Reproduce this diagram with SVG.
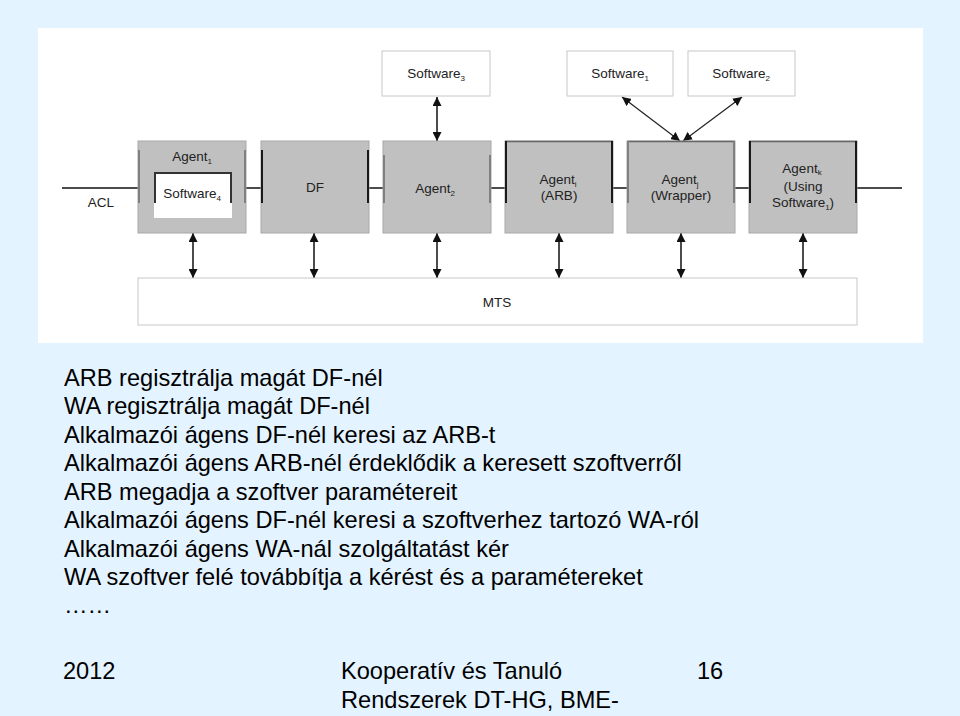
<svg xmlns="http://www.w3.org/2000/svg" width="960" height="716" viewBox="0 0 960 716">
<defs>
<style>
.dg{font-family:"Liberation Sans",Arial,sans-serif;font-size:13.5px;fill:#222;text-anchor:middle}
.sub{font-size:8px}
.agent{fill:#C0C0C0;stroke:#A8A8A8;stroke-width:1}
.sw{fill:#fff;stroke:#C8C8C8;stroke-width:1}
.acl{stroke:#111;stroke-width:1.5;fill:none}
.bk{stroke:#1a1a1a;stroke-width:2}
.gr{stroke:#808080;stroke-width:2}
.top{stroke:#666;stroke-width:1.5}
.arr{stroke:#111;stroke-width:1.5;fill:none;marker-start:url(#ah);marker-end:url(#ah)}
.arrt{stroke:#222;stroke-width:1.2;fill:none;marker-start:url(#ah);marker-end:url(#ah)}
.body{font-family:"Liberation Sans",Arial,sans-serif;font-size:23.6px;fill:#000}
</style>
<marker id="ah" viewBox="0 0 10 10" refX="10" refY="5" markerWidth="9" markerHeight="9" markerUnits="userSpaceOnUse" orient="auto-start-reverse">
<path d="M0,0 L10,5 L0,10 z" fill="#111"/>
</marker>
</defs>
<rect x="0" y="0" width="960" height="716" fill="#E3F3FF"/>
<rect x="38" y="28" width="885" height="315" fill="#fff"/>

<g id="connectors">
<path class="acl" d="M62,188 H138 M246,188 H261 M369,188 H383 M491,188 H505 M613,188 H627 M735,188 H749 M857,188 H902"/>
<line class="arr" x1="437" y1="97" x2="437" y2="141"/>
<line class="arrt" x1="622" y1="97" x2="680" y2="141"/>
<line class="arrt" x1="742" y1="97" x2="683" y2="141"/>
<line class="arr" x1="193" y1="233" x2="193" y2="278"/>
<line class="arr" x1="314" y1="233" x2="314" y2="278"/>
<line class="arr" x1="437" y1="233" x2="437" y2="278"/>
<line class="arr" x1="559" y1="233" x2="559" y2="278"/>
<line class="arr" x1="681" y1="233" x2="681" y2="278"/>
<line class="arr" x1="803" y1="233" x2="803" y2="278"/>
</g>

<text class="dg" x="101" y="207">ACL</text>

<g id="software3">
<rect class="sw" x="382" y="51" width="108" height="45"/>
<text class="dg" x="436" y="78">Software<tspan class="sub" dy="3">3</tspan></text>
</g>
<g id="software1">
<rect class="sw" x="567" y="51" width="106" height="45"/>
<text class="dg" x="620" y="78">Software<tspan class="sub" dy="3">1</tspan></text>
</g>
<g id="software2">
<rect class="sw" x="688" y="51" width="107" height="45"/>
<text class="dg" x="741" y="78">Software<tspan class="sub" dy="3">2</tspan></text>
</g>

<g id="agent1">
<rect class="agent" x="138" y="141" width="108" height="92"/>
<line class="gr" x1="139" y1="150" x2="139" y2="203"/>
<line class="gr" x1="245" y1="150" x2="245" y2="203"/>
<text class="dg" x="192" y="161">Agent<tspan class="sub" dy="3">1</tspan></text>
<rect x="154" y="172" width="78" height="46" fill="#fff"/>
<path d="M155,203 V173 H231 V203" fill="none" stroke="#333" stroke-width="2"/>
<text class="dg" x="192" y="198">Software<tspan class="sub" dy="3">4</tspan></text>
</g>

<g id="df">
<rect class="agent" x="261" y="141" width="108" height="92"/>
<line class="bk" x1="262" y1="150" x2="262" y2="203"/>
<line class="bk" x1="368" y1="150" x2="368" y2="203"/>
<text class="dg" x="315" y="192">DF</text>
</g>

<g id="agent2">
<rect class="agent" x="383" y="141" width="108" height="92"/>
<line class="gr" x1="384" y1="155" x2="384" y2="203"/>
<line class="gr" x1="490" y1="155" x2="490" y2="203"/>
<text class="dg" x="435" y="193">Agent<tspan class="sub" dy="3">2</tspan></text>
</g>

<g id="agent-arb">
<rect class="agent" x="505" y="141" width="108" height="92"/>
<line class="top" x1="505" y1="141.5" x2="613" y2="141.5"/>
<line class="bk" x1="506" y1="141" x2="506" y2="203"/>
<line class="bk" x1="612" y1="141" x2="612" y2="203"/>
<text class="dg" x="558" y="184">Agent<tspan class="sub" dy="3">i</tspan></text>
<text class="dg" x="559" y="200">(ARB)</text>
</g>

<g id="agent-wrapper">
<rect class="agent" x="627" y="141" width="108" height="92"/>
<line class="top" x1="627" y1="141.5" x2="735" y2="141.5"/>
<line class="gr" x1="628" y1="141" x2="628" y2="203"/>
<line class="gr" x1="734" y1="141" x2="734" y2="203"/>
<text class="dg" x="680" y="184">Agent<tspan class="sub" dy="3">j</tspan></text>
<text class="dg" x="681" y="200">(Wrapper)</text>
</g>

<g id="agent-k">
<rect class="agent" x="749" y="141" width="108" height="92"/>
<line class="top" x1="749" y1="141.5" x2="857" y2="141.5"/>
<line class="bk" x1="750" y1="141" x2="750" y2="203"/>
<line class="bk" x1="856" y1="141" x2="856" y2="203"/>
<text class="dg" x="802" y="173">Agent<tspan class="sub" dy="2">k</tspan></text>
<text class="dg" x="803" y="191">(Using</text>
<text class="dg" x="803" y="207">Software<tspan class="sub" dy="3">1</tspan><tspan dy="-3">)</tspan></text>
</g>

<g id="mts">
<rect class="sw" x="138" y="278" width="719" height="47"/>
<text class="dg" x="497" y="307">MTS</text>
</g>

<g id="bullets">
<text class="body" x="64" y="386">ARB regisztrálja magát DF-nél</text>
<text class="body" x="64" y="414">WA regisztrálja magát DF-nél</text>
<text class="body" x="64" y="443">Alkalmazói ágens DF-nél keresi az ARB-t</text>
<text class="body" x="64" y="471">Alkalmazói ágens ARB-nél érdeklődik a keresett szoftverről</text>
<text class="body" x="64" y="500">ARB megadja a szoftver paramétereit</text>
<text class="body" x="64" y="528">Alkalmazói ágens DF-nél keresi a szoftverhez tartozó WA-ról</text>
<text class="body" x="64" y="557">Alkalmazói ágens WA-nál szolgáltatást kér</text>
<text class="body" x="64" y="585">WA szoftver felé továbbítja a kérést és a paramétereket</text>
<text class="body" x="64" y="613">……</text>
</g>

<g id="footer">
<text class="body" x="63" y="679">2012</text>
<text class="body" x="341" y="679">Kooperatív és Tanuló</text>
<text class="body" x="341" y="708">Rendszerek DT-HG, BME-</text>
<text class="body" x="697" y="679">16</text>
</g>
</svg>
